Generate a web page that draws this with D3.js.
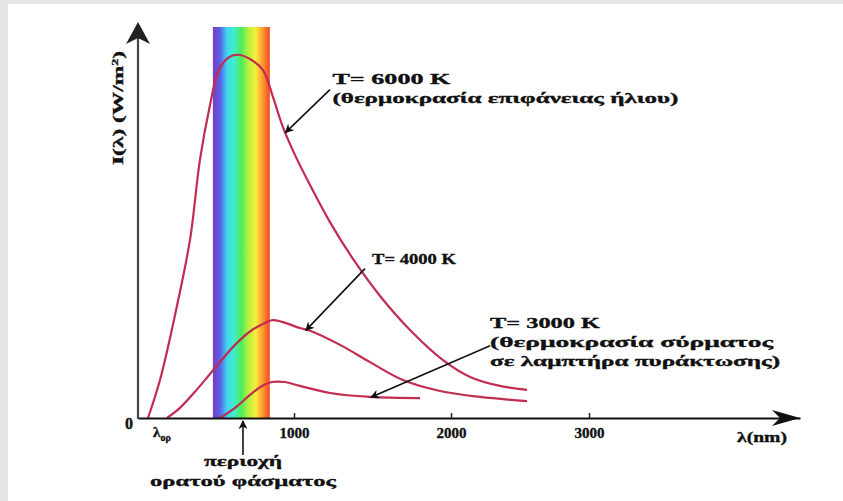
<!DOCTYPE html>
<html>
<head>
<meta charset="utf-8">
<script src="https://cdn.jsdelivr.net/npm/d3@7"></script>
<style>
  html, body { margin: 0; padding: 0; background: #ffffff; }
  svg { display: block; }
  text { font-family: "Liberation Serif", "DejaVu Serif", serif; font-weight: bold; fill: #111; stroke: #111; stroke-width: 0.35px; }
</style>
</head>
<body>
<svg id="chart" width="843" height="501"></svg>
<script>
// Planck spectral curves I(λ) (arbitrary units) against wavelength λ in nm
const lambda6000 = [64, 141, 237, 333, 397, 462, 513, 577, 641, 718, 801, 865, 929, 1006, 1102, 1229, 1389, 1548, 1739, 1949, 2138, 2355, 2551];
const intensity6000 = [0, 9.7, 26.3, 45.5, 66.0, 80.1, 88.5, 92.1, 92.9, 91.8, 89.0, 82.1, 74.4, 67.3, 59.6, 50.1, 39.9, 31.2, 22.5, 14.8, 10.5, 8.2, 7.2];

const lambda4000 = [186, 269, 365, 494, 622, 731, 814, 859, 923, 1038, 1102, 1293, 1484, 1694, 1930, 2210, 2551];
const intensity4000 = [0, 2.6, 6.7, 12.8, 18.7, 22.5, 24.3, 25.0, 24.6, 23.0, 22.3, 18.7, 14.3, 9.7, 6.9, 5.4, 4.3];

const lambda3000 = [526, 622, 718, 795, 859, 942, 1038, 1229, 1484, 1803];
const intensity3000 = [0, 2.6, 5.9, 8.2, 9.2, 9.2, 8.2, 6.4, 5.4, 5.1];

// Visible band (nm) and its colours from violet to red
const visibleBand = [480, 845];
const spectrumColors = ["#7a3cc0", "#5a5ee6", "#3fd8f0", "#40eec8", "#4cec5a", "#b8f040", "#f6ee3c", "#ff9a2c", "#f0482a"];

// Axis ticks
const xTicks = [1000, 2000, 3000];
const xTickLabels = ["1000", "2000", "3000"];

// Curve annotations: label lines, label anchor and arrow (from -> to) in data units
const annotations = [
  { lines: ["T= 6000 K", "(θερμοκρασία επιφάνειας ήλιου)"], widths: [118, 346],
    at: [1245, 85.5], from: [1229, 84.0], to: [945, 73.0] },
  { lines: ["T= 4000 K"], widths: [84],
    at: [1497, 39.5], from: [1452, 38.2], to: [1075, 22.4] },
  { lines: ["T= 3000 K", "(θερμοκρασία σύρματος", "σε λαμπτήρα πυράκτωσης)"], widths: [110, 283, 290],
    at: [2283, 23.0], from: [2283, 18.5], to: [1490, 5.3] }
];

const svg = d3.select("#chart");
const W = 843, H = 501;

// light frame of the figure
svg.append("rect").attr("x", 0).attr("y", 0).attr("width", W).attr("height", H).attr("fill", "#e6e6e6");
svg.append("rect").attr("x", 8).attr("y", 4).attr("width", W - 8).attr("height", H - 4).attr("fill", "#ffffff");

const x0 = 138, yBase = 418;
const x = d3.scaleLinear().domain([0, 1000, 2000, 3000, 4530]).range([x0, 294, 451, 589, 800]);
const y = d3.scaleLinear().domain([0, 100]).range([yBase, 27]);

const defs = svg.append("defs");
const grad = defs.append("linearGradient").attr("id", "spectrum")
  .attr("x1", "0%").attr("x2", "100%").attr("y1", "0%").attr("y2", "0%");
spectrumColors.forEach((c, i) => {
  grad.append("stop").attr("offset", (i / (spectrumColors.length - 1) * 100) + "%").attr("stop-color", c);
});

defs.append("marker").attr("id", "tip").attr("viewBox", "0 0 10 10")
  .attr("refX", 9).attr("refY", 5).attr("markerWidth", 9).attr("markerHeight", 9)
  .attr("markerUnits", "userSpaceOnUse").attr("orient", "auto")
  .append("path").attr("d", "M0,0 L10,5 L0,10 L3,5 Z").attr("fill", "#111");

// visible spectrum band
svg.append("rect")
  .attr("x", x(visibleBand[0])).attr("y", y(100))
  .attr("width", x(visibleBand[1]) - x(visibleBand[0]))
  .attr("height", y(0) - y(100))
  .attr("fill", "url(#spectrum)");

// curves
const line = d3.line().x(d => x(d[0])).y(d => y(d[1])).curve(d3.curveCatmullRom.alpha(0.5));
const series = [
  [lambda6000, intensity6000],
  [lambda4000, intensity4000],
  [lambda3000, intensity3000]
];
series.forEach(([ls, is]) => {
  svg.append("path")
    .datum(ls.map((l, i) => [l, is[i]]))
    .attr("d", line)
    .attr("fill", "none")
    .attr("stroke", "#c22c50")
    .attr("stroke-width", 2.2)
    .attr("stroke-linejoin", "round");
});

// x axis
const xAxis = d3.axisBottom(x).tickValues(xTicks)
  .tickFormat((d, i) => xTickLabels[i])
  .tickSizeInner(-5).tickSizeOuter(0).tickPadding(9);
const gx = svg.append("g").attr("transform", `translate(0,${yBase})`).call(xAxis);
gx.select(".domain").attr("stroke", "#111").attr("stroke-width", 2.2);
gx.selectAll(".tick line").attr("stroke", "#222").attr("stroke-width", 1.5);
gx.selectAll(".tick text").style("font-size", "15px").attr("fill", "#111")
  .style("font-family", "'Liberation Serif', serif").style("font-weight", "bold");

// y axis line
svg.append("line").attr("x1", x0).attr("x2", x0).attr("y1", yBase + 1).attr("y2", 30)
  .attr("stroke", "#444").attr("stroke-width", 2.2);

// arrowheads of the axes
svg.append("path")
  .attr("d", `M${x0},22 L${x0 + 12},44 L${x0},38 L${x0 - 12},44 Z`).attr("fill", "#222");
svg.append("path")
  .attr("d", `M800,${yBase} L772,${yBase - 8} L780,${yBase} L772,${yBase + 8} Z`).attr("fill", "#111");

// axis texts
svg.append("text").attr("x", 129).attr("y", 429).attr("text-anchor", "middle")
  .style("font-size", "16px").text("0");

const lo = svg.append("text").attr("x", 153).attr("y", 437).style("font-size", "15px");
lo.append("tspan").text("λ");
lo.append("tspan").attr("dy", 4).style("font-size", "10px").text("ορ");

svg.append("text").attr("x", 737).attr("y", 442).attr("textLength", 50).attr("lengthAdjust", "spacingAndGlyphs")
  .style("font-size", "15px").text("λ(nm)");

const yl = svg.append("text")
  .attr("transform", "translate(123,108) rotate(-90)")
  .attr("text-anchor", "middle").style("font-size", "15px")
  .attr("textLength", 114).attr("lengthAdjust", "spacingAndGlyphs");
yl.append("tspan").text("I(λ) (W/m");
yl.append("tspan").attr("dy", -5).style("font-size", "9px").text("2");
yl.append("tspan").attr("dy", 5).text(")");

// curve annotations
annotations.forEach(a => {
  svg.append("line")
    .attr("x1", x(a.from[0])).attr("y1", y(a.from[1]))
    .attr("x2", x(a.to[0])).attr("y2", y(a.to[1]))
    .attr("stroke", "#111").attr("stroke-width", 1.6)
    .attr("marker-end", "url(#tip)");
  const t = svg.append("text").style("font-size", "15px");
  a.lines.forEach((s, i) => {
    t.append("tspan").attr("x", x(a.at[0])).attr("y", y(a.at[1]) + i * 19)
      .attr("textLength", a.widths[i]).attr("lengthAdjust", "spacingAndGlyphs").text(s);
  });
});

// visible-range pointer below the axis
const vx = x(673);
svg.append("line").attr("x1", vx).attr("x2", vx).attr("y1", 455).attr("y2", 421)
  .attr("stroke", "#111").attr("stroke-width", 1.6).attr("marker-end", "url(#tip)");
svg.append("text").attr("x", vx).attr("y", 466).attr("text-anchor", "middle")
  .attr("textLength", 78).attr("lengthAdjust", "spacingAndGlyphs")
  .style("font-size", "15px").text("περιοχή");
svg.append("text").attr("x", vx).attr("y", 486).attr("text-anchor", "middle")
  .attr("textLength", 186).attr("lengthAdjust", "spacingAndGlyphs")
  .style("font-size", "15px").text("ορατού φάσματος");
</script>
</body>
</html>
